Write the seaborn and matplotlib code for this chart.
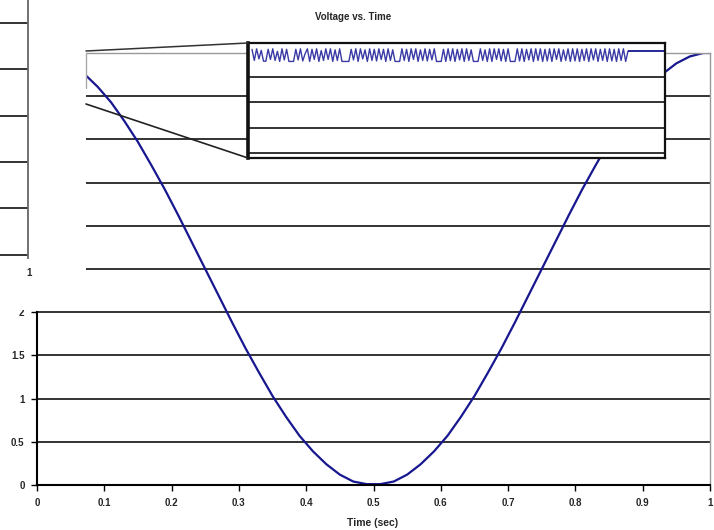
import matplotlib
matplotlib.use('Agg')
import matplotlib.pyplot as plt
from matplotlib.patches import Rectangle
from matplotlib.lines import Line2D
import seaborn as sns
import pandas as pd
import numpy as np

# main trace
time_sec = [0.07, 0.09, 0.11, 0.13, 0.15, 0.17, 0.19, 0.21, 0.23, 0.25, 0.27, 0.29, 0.31, 0.33,
            0.35, 0.37, 0.39, 0.41, 0.43, 0.45, 0.47, 0.49, 0.51, 0.53, 0.55, 0.57, 0.59, 0.61,
            0.63, 0.65, 0.67, 0.69, 0.71, 0.73, 0.75, 0.77, 0.79, 0.81, 0.83, 0.85, 0.87, 0.89,
            0.91, 0.93, 0.95, 0.97, 0.99, 1.0]
voltage = [4.76, 4.61, 4.43, 4.21, 3.97, 3.70, 3.42, 3.12, 2.81, 2.50, 2.19, 1.88, 1.58, 1.30,
           1.03, 0.79, 0.57, 0.39, 0.24, 0.12, 0.04, 0.01, 0.01, 0.04, 0.12, 0.24, 0.39, 0.57,
           0.79, 1.03, 1.30, 1.58, 1.88, 2.19, 2.50, 2.81, 3.12, 3.42, 3.70, 3.97, 4.21, 4.43,
           4.61, 4.76, 4.88, 4.96, 5.00, 5.00]

x_ticks = [0, 0.1, 0.2, 0.3, 0.4, 0.5, 0.6, 0.7, 0.8, 0.9, 1]
x_labels = ['0', '0.1', '0.2', '0.3', '0.4', '0.5', '0.6', '0.7', '0.8', '0.9', '1']
y_levels = [0, 0.5, 1, 1.5, 2, 2.5, 3, 3.5, 4, 4.5, 5]
y_labels = ['0', '0.5', '1', '1.5', '2', '', '', '', '', '', '']

# zoomed inset: noisy top of the signal
zoom_vals = [4.10, 3.66, 4.12, 3.72, 4.06, 3.63, 3.63, 4.10, 3.70, 4.12, 3.66, 4.02, 3.62, 4.12,
             3.68, 4.10, 3.62, 3.62, 3.62, 4.10, 3.68, 4.12, 3.64, 3.92, 4.12, 3.62, 4.10, 3.70,
             4.12, 3.62, 4.05, 3.66, 4.12, 3.70, 4.12, 3.62, 4.08, 3.66, 4.12, 3.62, 3.62, 3.62,
             3.62, 4.10, 3.68, 4.12, 3.62, 4.12, 3.72, 4.08, 3.62, 4.12, 3.66, 4.10, 3.64, 4.12,
             3.70, 4.10, 3.62, 4.12, 3.66, 4.08, 3.62, 3.62, 3.62, 4.12, 3.66, 4.10, 3.62, 4.12,
             3.70, 4.12, 3.62, 4.08, 3.66, 4.12, 3.64, 4.10, 3.68, 4.12, 3.62, 3.62, 3.62, 4.10,
             3.62, 4.12, 3.65, 4.12, 3.62, 4.10, 3.68, 4.12, 3.62, 4.12, 3.66, 4.08, 3.62, 3.62,
             3.62, 4.12, 3.66, 4.08, 3.62, 4.12, 3.62, 4.12, 3.70, 4.12, 3.64, 4.10, 3.62, 4.12,
             3.62, 3.62, 3.62, 4.12, 3.64, 4.12, 3.62, 4.10, 3.68, 4.12, 3.62, 4.12, 3.66, 4.12,
             3.62, 4.10, 3.64, 4.12, 3.62, 4.12, 3.70, 4.12, 3.62, 4.08, 3.66, 4.12, 3.62, 4.12,
             3.64, 4.12, 3.62, 4.10, 3.66, 4.12, 3.62, 4.12, 3.68, 4.12, 3.62, 4.10, 3.66, 4.12,
             3.62, 4.12, 3.64, 4.10, 3.62, 4.12, 3.66, 4.12, 3.62, 4.03]
zoom_settle = 4.03
zoom_grid = [0, 1, 2, 3]
left_grid = [0, 1, 2, 3, 4, 5]

W, H = 714, 530
def box(l, t, r, b):
    return [l / W, 1 - b / H, (r - l) / W, (b - t) / H]

sns.set_style('white')
plt.rcParams['font.family'] = ['Liberation Sans', 'DejaVu Sans']
line_col = '#17178f'

fig = plt.figure(figsize=(W / 100, H / 100), dpi=100)

# main chart
ax = fig.add_axes(box(37, 53, 710, 485))
df = pd.DataFrame({'t': time_sec, 'v': voltage})
sns.lineplot(data=df, x='t', y='v', ax=ax, color=line_col, linewidth=1.6)
ax.set_xlim(0, 1)
ax.set_ylim(0, 5)
ax.set_xticks(x_ticks, x_labels)
ax.set_yticks(y_levels, y_labels)
for lv in y_levels[1:-1]:
    ax.axhline(lv, color='#111111', lw=1.2, zorder=1)
ax.tick_params(direction='out', length=4, width=1, color='black', labelsize=7, pad=5,
               bottom=True, left=True)
for lab in ax.get_xticklabels() + ax.get_yticklabels():
    lab.set_fontweight('bold')
ax.spines['left'].set_bounds(0, 2)
ax.spines['left'].set_linewidth(1.5)
ax.spines['bottom'].set_linewidth(1.5)
for s in ['left', 'bottom']:
    ax.spines[s].set_color('black')
for s in ['top', 'right']:
    ax.spines[s].set_color('#999999')
    ax.spines[s].set_linewidth(1.0)
ax.set_xlabel('')
ax.set_ylabel('')

# blank strip on the upper left
fig.add_artist(Rectangle((0, 1 - 310 / H), 86 / W, 310 / H, transform=fig.transFigure,
                         facecolor='white', edgecolor='none', zorder=1))

# remnant axis at the upper left
ax_ul = fig.add_axes(box(0, 0, 28, 258), zorder=3)
ax_ul.set_facecolor('none')
ax_ul.set_ylim(-0.07, 5.5)
ax_ul.set_xlim(0, 1)
ax_ul.set_xticks([])
ax_ul.set_yticks(left_grid)
ax_ul.set_yticklabels([])
ax_ul.tick_params(length=0)
for lv in left_grid:
    ax_ul.axhline(lv, color='#111111', lw=1.2)
for s in ['left', 'top', 'bottom']:
    ax_ul.spines[s].set_visible(False)
ax_ul.spines['right'].set_color('#666666')
ax_ul.spines['right'].set_linewidth(1.3)
fig.text(29 / W, 1 - 273 / H, '1', ha='center', va='center', fontsize=7, fontweight='bold')

# zoom inset
ax_in = fig.add_axes(box(248, 43, 665, 158), zorder=4)
ax_in.set_facecolor('white')
n = len(zoom_vals)
step = 376 / (n - 1)
sns.lineplot(x=np.arange(n), y=zoom_vals, ax=ax_in, color='#3a3aa6', linewidth=1.0)
x_right = (n - 1) + 37 / step
ax_in.hlines(zoom_settle, n - 1, x_right, color=line_col, lw=1.3)
ax_in.set_xlim(-4 / step, x_right)
ax_in.set_ylim(-0.2, 4.35)
for lv in zoom_grid:
    ax_in.axhline(lv, color='#111111', lw=1.2)
ax_in.set_xticks([])
ax_in.set_yticks([])
for s in ax_in.spines.values():
    s.set_color('#111111')
    s.set_linewidth(1.6)
ax_in.spines['left'].set_linewidth(2.6)

# connector lines to the zoom box
fig.add_artist(Line2D([86 / W, 248 / W], [1 - 51 / H, 1 - 43 / H], transform=fig.transFigure,
                      color='#333333', lw=1.1, zorder=6))
fig.add_artist(Line2D([86 / W, 248 / W], [1 - 104 / H, 1 - 158 / H], transform=fig.transFigure,
                      color='#222222', lw=1.2, zorder=6))
fig.add_artist(Line2D([86 / W, 86 / W], [1 - 53 / H, 1 - 88 / H], transform=fig.transFigure,
                      color='#aaaaaa', lw=1.0, zorder=6))

fig.text(353 / W, 1 - 17 / H, 'Voltage vs. Time', ha='center', va='center',
         fontsize=7, fontweight='bold')
fig.text(373 / W, 1 - 523 / H, 'Time (sec)', ha='center', va='center',
         fontsize=7.5, fontweight='bold')

fig.savefig('out.png', dpi=100)
